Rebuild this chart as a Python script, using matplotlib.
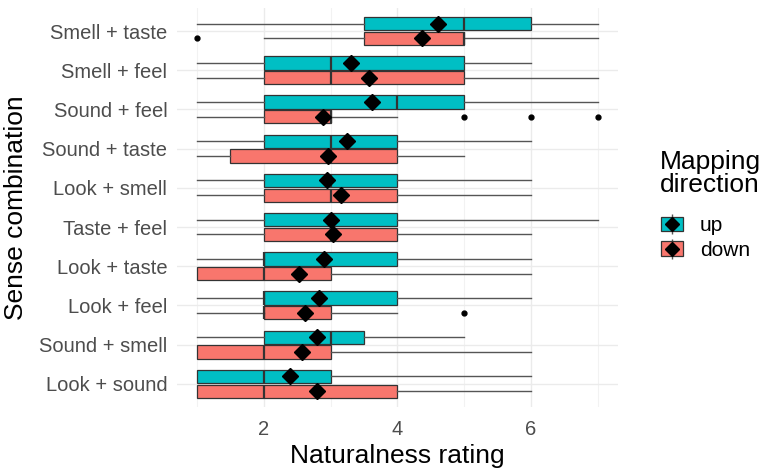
import matplotlib
matplotlib.use("Agg")
import matplotlib.pyplot as plt
from matplotlib.patches import Patch
from matplotlib.lines import Line2D
from matplotlib.legend_handler import HandlerTuple

plt.rcParams['font.family'] = ['Liberation Sans', 'DejaVu Sans']

# categories top to bottom
categories = ["Smell + taste", "Smell + feel", "Sound + feel", "Sound + taste",
              "Look + smell", "Taste + feel", "Look + taste", "Look + feel",
              "Sound + smell", "Look + sound"]

# "up" mapping direction
up_whislo = [1, 1, 1, 1, 1, 1, 1, 1, 1, 1]
up_q1     = [3.5, 2, 2, 2, 2, 2, 2, 2, 2, 1]
up_med    = [5, 3, 4, 3, 3, 3, 2, 2, 3, 2]
up_q3     = [6, 5, 5, 4, 4, 4, 4, 4, 3.5, 3]
up_whishi = [7, 6, 7, 6, 6, 7, 6, 6, 5, 6]
up_mean   = [4.6, 3.3, 3.62, 3.24, 2.95, 3.0, 2.9, 2.82, 2.8, 2.39]
up_fliers = [[], [], [], [], [], [], [], [], [], []]

# "down" mapping direction
down_whislo = [2, 1, 1, 1, 1, 1, 1, 1, 1, 1]
down_q1     = [3.5, 2, 2, 1.5, 2, 2, 1, 2, 1, 1]
down_med    = [5, 3, 3, 3, 3, 3, 2, 2, 2, 2]
down_q3     = [5, 5, 3, 4, 4, 4, 3, 3, 3, 4]
down_whishi = [7, 7, 4, 5, 6, 6, 6, 4, 6, 6]
down_mean   = [4.37, 3.58, 2.89, 2.96, 3.16, 3.04, 2.53, 2.61, 2.57, 2.8]
down_fliers = [[1], [], [5, 6, 7], [], [], [], [], [5], [], []]

x_ticks = [2, 4, 6]

col_up = "#00BFC4"
col_down = "#F8766D"

fig = plt.figure(figsize=(7.67, 4.72), dpi=100)
ax = fig.add_axes([0.2308, 0.137, 0.8057 - 0.2308, 0.984 - 0.137])

n = len(categories)
ypos = [n - i for i in range(n)]
off = 0.1875
width = 0.3375


def make_stats(wl, q1, med, q3, wh, mean, fl):
    return [dict(whislo=a, q1=b, med=c, q3=d, whishi=e, mean=f, fliers=g)
            for a, b, c, d, e, f, g in zip(wl, q1, med, q3, wh, mean, fl)]


for stats, sign, col in [
        (make_stats(up_whislo, up_q1, up_med, up_q3, up_whishi, up_mean, up_fliers), 1, col_up),
        (make_stats(down_whislo, down_q1, down_med, down_q3, down_whishi, down_mean, down_fliers), -1, col_down)]:
    pos = [y + sign * off for y in ypos]
    ax.bxp(stats, positions=pos, widths=width, vert=False, patch_artist=True,
           showmeans=True, showcaps=False, manage_ticks=False,
           boxprops=dict(facecolor=col, edgecolor="#333333", linewidth=0.9),
           medianprops=dict(color="#333333", linewidth=1.6),
           whiskerprops=dict(color="#555555", linewidth=1.0),
           flierprops=dict(marker='o', markerfacecolor='black', markeredgecolor='black',
                           markersize=3.5),
           meanprops=dict(marker='D', markerfacecolor='black', markeredgecolor='black',
                          markersize=8),
           zorder=3)

ax.set_xlim(0.7, 7.3)
ax.set_ylim(0.4, n + 0.6)
ax.set_xticks(x_ticks)
ax.set_xticks([1, 3, 5, 7], minor=True)
ax.set_yticks(ypos)
ax.set_yticklabels(categories)
ax.tick_params(axis='both', which='both', length=0, labelsize=14.5, colors="#4D4D4D")
ax.tick_params(axis='x', pad=9)
ax.tick_params(axis='y', pad=7)
ax.grid(True, which='major', color="#EBEBEB", linewidth=1.0, zorder=0)
ax.grid(True, which='minor', axis='x', color="#F2F2F2", linewidth=0.8, zorder=0)
ax.set_axisbelow(True)
for s in ax.spines.values():
    s.set_visible(False)

ax.set_xlabel("Naturalness rating", fontsize=19, color="black", labelpad=4)
ax.set_ylabel("Sense combination", fontsize=19, color="black", labelpad=8)

fig.text(660 / 767, 1 - 150 / 472, "Mapping\ndirection", fontsize=19, color="black",
         ha='left', va='top', linespacing=0.95)

handles = []
for col in [col_up, col_down]:
    wh = Line2D([], [], marker='|', color="#555555", markersize=15, linestyle='none',
                markeredgewidth=1.0)
    p = Patch(facecolor=col, edgecolor="#333333", linewidth=0.9)
    d = Line2D([], [], marker='D', color='black', markersize=7, linestyle='none')
    handles.append((wh, p, d))

leg = fig.legend(handles, ["up", "down"],
                 loc='upper left', bbox_to_anchor=(661 / 767, 1 - 216 / 472), frameon=False,
                 handler_map={tuple: HandlerTuple(ndivide=1, pad=0)},
                 fontsize=15, handlelength=1.06, handleheight=0.67,
                 handletextpad=0.8, labelspacing=0.28,
                 borderpad=0, borderaxespad=0)

fig.savefig("out.png", dpi=100)
